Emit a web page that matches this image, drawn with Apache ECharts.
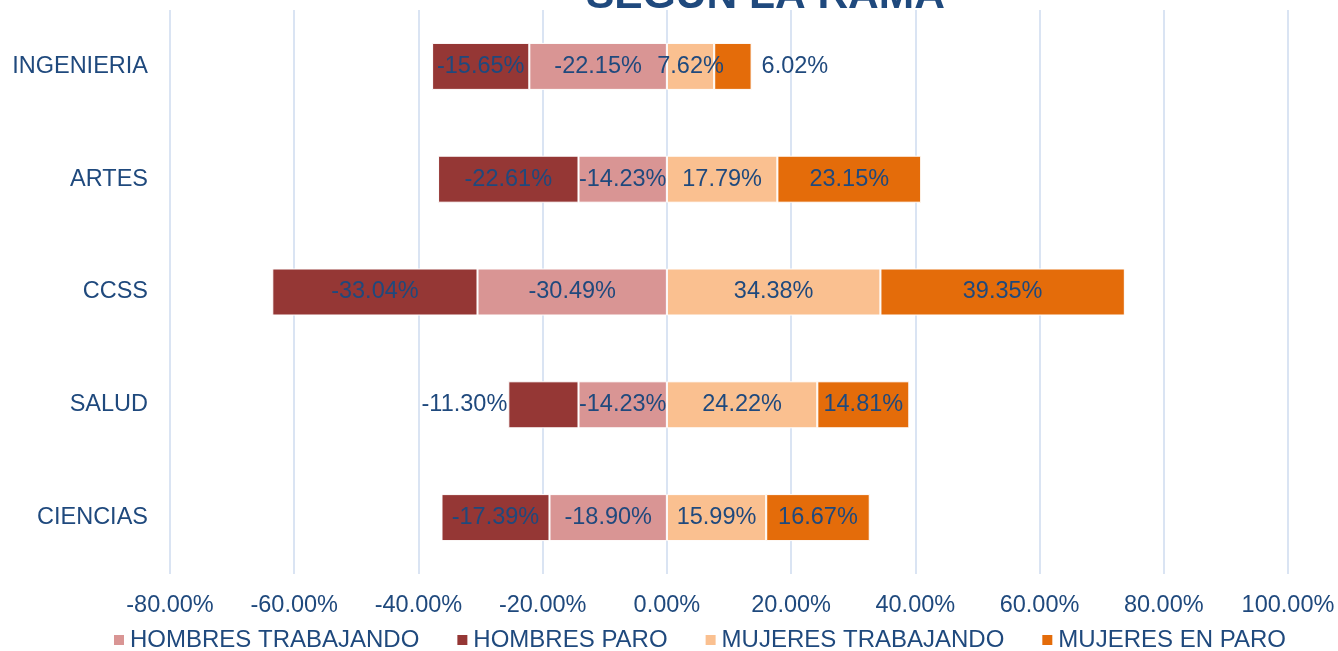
<!DOCTYPE html>
<html>
<head>
<meta charset="utf-8">
<script src="https://cdn.jsdelivr.net/npm/echarts@6/dist/echarts.min.js"></script>
<style>
html,body{margin:0;padding:0;background:#fff;}
#chart{width:1338px;height:651px;}
</style>
</head>
<body>
<div id="chart"></div>
<script>
const categories = ['CIENCIAS', 'SALUD', 'CCSS', 'ARTES', 'INGENIERIA'];
const hombresTrabajando = [-18.90, -14.23, -30.49, -14.23, -22.15];
const hombresParo = [-17.39, -11.30, -33.04, -22.61, -15.65];
const mujeresTrabajando = [15.99, 24.22, 34.38, 17.79, 7.62];
const mujeresParo = [16.67, 14.81, 39.35, 23.15, 6.02];
const seriesNames = ['HOMBRES TRABAJANDO', 'HOMBRES PARO', 'MUJERES TRABAJANDO', 'MUJERES EN PARO'];
const titleText = 'SEGÚN LA RAMA';

const FONT = '"Liberation Sans", Arial, sans-serif';
const TEXT = '#1F497D';
const colors = ['#D99594', '#953735', '#FAC090', '#E46C0A'];

function fmt(v) { return v.toFixed(2) + '%'; }

function makeData(arr, special) {
  return arr.map((v, i) => {
    const item = { value: v };
    if (special && special[i]) item.label = special[i];
    return item;
  });
}

const labelBase = {
  show: true,
  position: 'inside',
  color: TEXT,
  fontFamily: FONT,
  fontSize: 23.5,
  formatter: p => fmt(p.value)
};

const chart = echarts.init(document.getElementById('chart'), null, { renderer: 'canvas' });
chart.setOption({
  animation: false,
  backgroundColor: '#ffffff',
  title: {
    text: titleText,
    left: 581,
    top: -30,
    textStyle: { fontFamily: FONT, fontSize: 42.5, fontWeight: 'bold', color: TEXT }
  },
  legend: {
    data: seriesNames,
    left: 107,
    top: 623,
    itemWidth: 12,
    itemHeight: 12,
    itemGap: 36,
    icon: 'rect',
    textStyle: { fontFamily: FONT, fontSize: 24, color: TEXT, padding: [0, 0, 0, 0] }
  },
  grid: { left: 170, right: 50, top: 10, bottom: 77, containLabel: false },
  xAxis: {
    type: 'value',
    min: -80,
    max: 100,
    interval: 20,
    axisLine: { show: false },
    axisTick: { show: false },
    splitLine: { show: true, lineStyle: { color: '#DAE4F3', width: 2 } },
    axisLabel: { color: TEXT, fontFamily: FONT, fontSize: 23.5, margin: 20, formatter: v => fmt(v) }
  },
  yAxis: {
    type: 'category',
    data: categories,
    axisLine: { show: false },
    axisTick: { show: false },
    axisLabel: { color: TEXT, fontFamily: FONT, fontSize: 23.5, margin: 22 }
  },
  series: [
    {
      name: seriesNames[0], type: 'bar', stack: 'total', barWidth: 47,
      itemStyle: { color: colors[0], borderColor: '#ffffff', borderWidth: 1 },
      label: labelBase,
      data: makeData(hombresTrabajando)
    },
    {
      name: seriesNames[1], type: 'bar', stack: 'total', barWidth: 47,
      itemStyle: { color: colors[1], borderColor: '#ffffff', borderWidth: 1 },
      label: labelBase,
      data: makeData(hombresParo, { 1: { position: 'left', distance: 1 } })
    },
    {
      name: seriesNames[2], type: 'bar', stack: 'total', barWidth: 47,
      itemStyle: { color: colors[2], borderColor: '#ffffff', borderWidth: 1 },
      label: labelBase,
      data: makeData(mujeresTrabajando)
    },
    {
      name: seriesNames[3], type: 'bar', stack: 'total', barWidth: 47,
      itemStyle: { color: colors[3], borderColor: '#ffffff', borderWidth: 1 },
      label: labelBase,
      data: makeData(mujeresParo, { 4: { position: 'right', distance: 10 } })
    }
  ]
});
</script>
</body>
</html>
